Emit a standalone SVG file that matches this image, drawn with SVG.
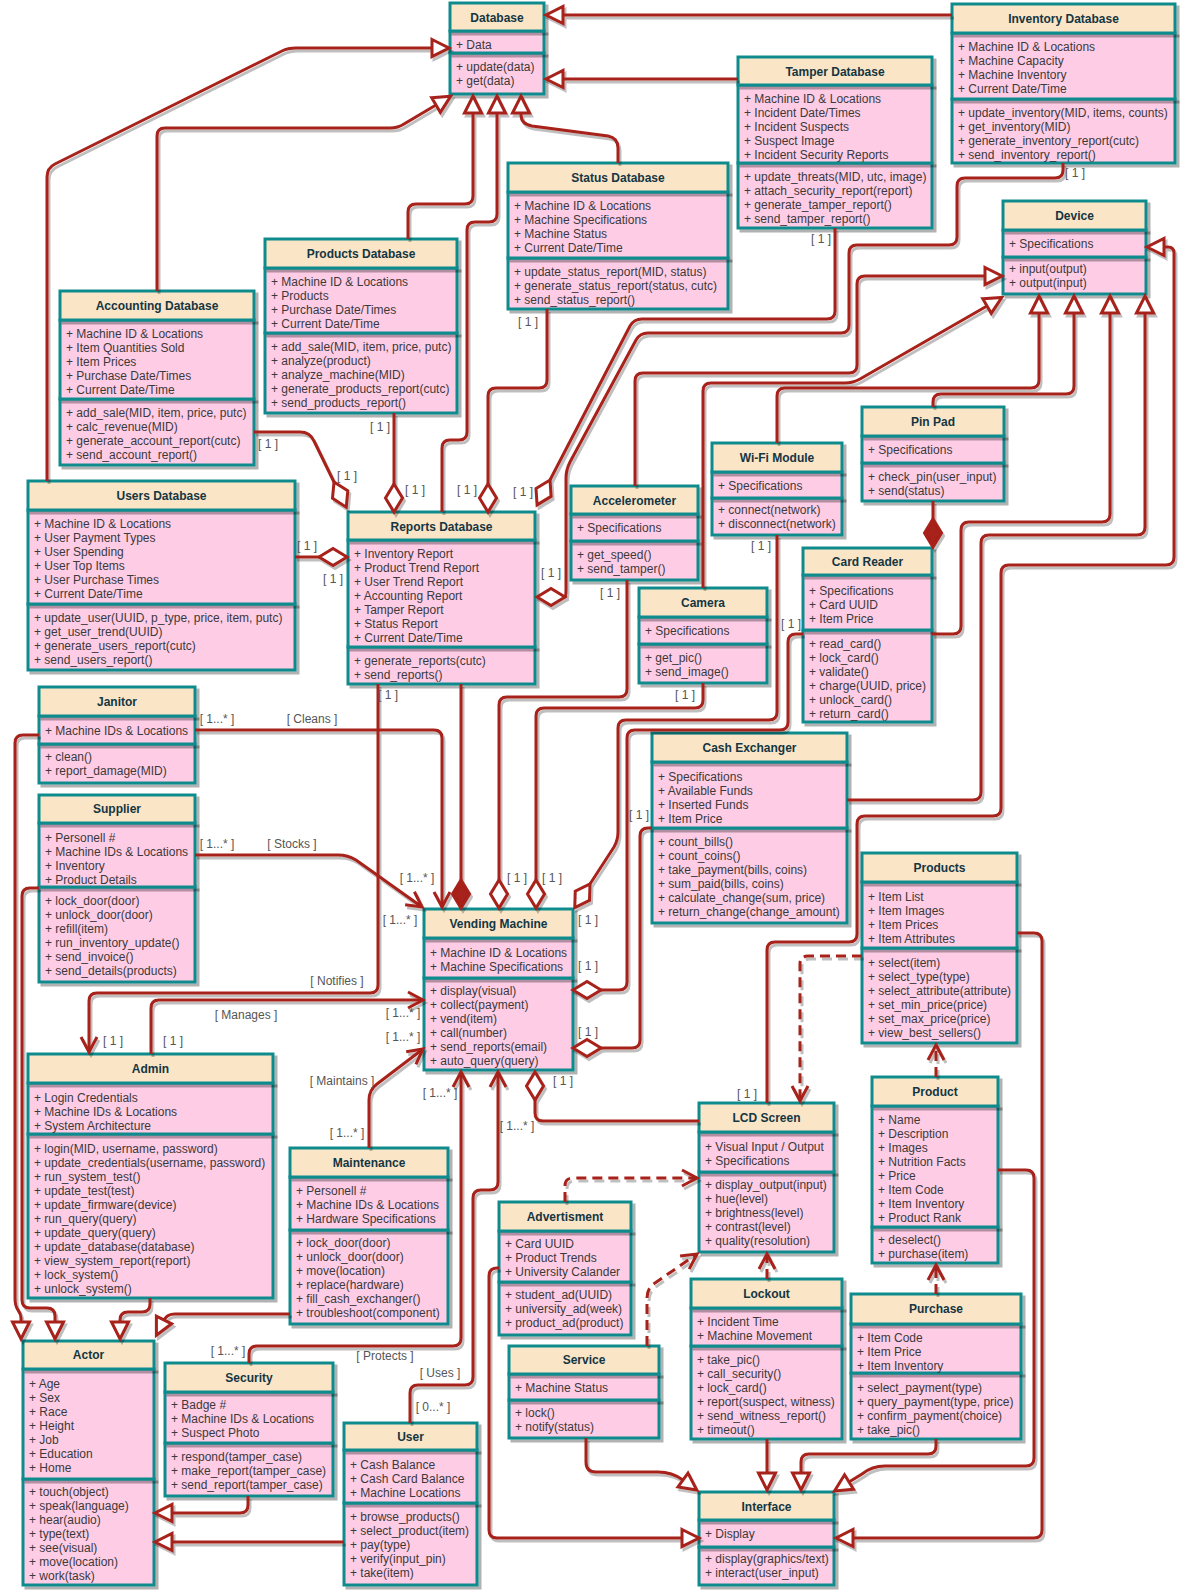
<svg xmlns="http://www.w3.org/2000/svg" width="1194" height="1591" viewBox="0 0 1194 1591">
<defs>
<style>
.hd{fill:#FAE5C7;stroke:#0F8B8D;stroke-width:3;filter:url(#sh)}
.bd{fill:#FFCCE6;stroke:#0F8B8D;stroke-width:3;filter:url(#sh)}
text{font-family:"Liberation Sans",Arial,Helvetica,sans-serif;font-size:12px}
.t{font-weight:bold;fill:#143642;text-anchor:middle}
.m{fill:#3a3a3a}
.l{fill:#555;text-anchor:middle}
.e{fill:none;stroke:#A8201A;stroke-width:3}
.d{stroke-dasharray:10 6}
.ti{marker-end:url(#tri)}
.od{marker-end:url(#odia)}
.fd{marker-end:url(#fdia)}
.ar{marker-end:url(#arr)}
</style>
<filter id="sh" x="-0.05" y="-0.1" width="1.2" height="1.6">
<feDropShadow dx="3" dy="3" stdDeviation="0.7" flood-color="#000" flood-opacity="0.3"/>
</filter>
<filter id="shl" filterUnits="userSpaceOnUse" x="0" y="0" width="1194" height="1591">
<feDropShadow dx="2" dy="3" stdDeviation="0.7" flood-color="#000" flood-opacity="0.25"/>
</filter>
<marker id="tri" markerUnits="userSpaceOnUse" orient="auto" overflow="visible" markerWidth="1" markerHeight="1">
<path d="M0,-8.5 L17,0 L0,8.5 Z" fill="#fff" stroke="#A8201A" stroke-width="3"/>
</marker>
<marker id="odia" markerUnits="userSpaceOnUse" orient="auto" overflow="visible" markerWidth="1" markerHeight="1">
<path d="M0,0 L14,-8.5 L28,0 L14,8.5 Z" fill="#fff" stroke="#A8201A" stroke-width="3"/>
</marker>
<marker id="fdia" markerUnits="userSpaceOnUse" orient="auto" overflow="visible" markerWidth="1" markerHeight="1">
<path d="M0,0 L14,-8.5 L28,0 L14,8.5 Z" fill="#A8201A" stroke="#A8201A" stroke-width="3"/>
</marker>
<marker id="arr" markerUnits="userSpaceOnUse" orient="auto" overflow="visible" markerWidth="1" markerHeight="1">
<path d="M-15,-8 L0,0 L-15,8" fill="none" stroke="#A8201A" stroke-width="3"/>
</marker>
</defs>
<rect width="1194" height="1591" fill="#fff"/>

<g id="database">
<rect class="bd" x="450" y="53" width="94" height="41"/>
<rect class="bd" x="450" y="31" width="94" height="22"/>
<rect class="hd" x="450" y="3" width="94" height="28"/>
<text class="t" x="497" y="21.5">Database</text>
<text class="m" x="456" y="48.5">+ Data</text>
<text class="m" y="70.5"><tspan x="456">+ update(data)</tspan><tspan x="456" dy="14">+ get(data)</tspan></text>
</g>

<g id="inventory-database">
<rect class="bd" x="952" y="99" width="223" height="64"/>
<rect class="bd" x="952" y="33" width="223" height="66"/>
<rect class="hd" x="952" y="4" width="223" height="29"/>
<text class="t" x="1063.5" y="22.5">Inventory Database</text>
<text class="m" y="50.5"><tspan x="958">+ Machine ID &amp; Locations</tspan><tspan x="958" dy="14">+ Machine Capacity</tspan><tspan x="958" dy="14">+ Machine Inventory</tspan><tspan x="958" dy="14">+ Current Date/Time</tspan></text>
<text class="m" y="116.5"><tspan x="958">+ update_inventory(MID, items, counts)</tspan><tspan x="958" dy="14">+ get_inventory(MID)</tspan><tspan x="958" dy="14">+ generate_inventory_report(cutc)</tspan><tspan x="958" dy="14">+ send_inventory_report()</tspan></text>
</g>

<g id="tamper-database">
<rect class="bd" x="738" y="163" width="194" height="65"/>
<rect class="bd" x="738" y="85" width="194" height="78"/>
<rect class="hd" x="738" y="57" width="194" height="28"/>
<text class="t" x="835" y="75.5">Tamper Database</text>
<text class="m" y="102.5"><tspan x="744">+ Machine ID &amp; Locations</tspan><tspan x="744" dy="14">+ Incident Date/Times</tspan><tspan x="744" dy="14">+ Incident Suspects</tspan><tspan x="744" dy="14">+ Suspect Image</tspan><tspan x="744" dy="14">+ Incident Security Reports</tspan></text>
<text class="m" y="180.5"><tspan x="744">+ update_threats(MID, utc, image)</tspan><tspan x="744" dy="14">+ attach_security_report(report)</tspan><tspan x="744" dy="14">+ generate_tamper_report()</tspan><tspan x="744" dy="14">+ send_tamper_report()</tspan></text>
</g>

<g id="status-database">
<rect class="bd" x="508" y="258" width="220" height="51"/>
<rect class="bd" x="508" y="192" width="220" height="66"/>
<rect class="hd" x="508" y="163" width="220" height="29"/>
<text class="t" x="618" y="181.5">Status Database</text>
<text class="m" y="209.5"><tspan x="514">+ Machine ID &amp; Locations</tspan><tspan x="514" dy="14">+ Machine Specifications</tspan><tspan x="514" dy="14">+ Machine Status</tspan><tspan x="514" dy="14">+ Current Date/Time</tspan></text>
<text class="m" y="275.5"><tspan x="514">+ update_status_report(MID, status)</tspan><tspan x="514" dy="14">+ generate_status_report(status, cutc)</tspan><tspan x="514" dy="14">+ send_status_report()</tspan></text>
</g>

<g id="products-database">
<rect class="bd" x="265" y="333" width="192" height="80"/>
<rect class="bd" x="265" y="268" width="192" height="65"/>
<rect class="hd" x="265" y="239" width="192" height="29"/>
<text class="t" x="361" y="257.5">Products Database</text>
<text class="m" y="285.5"><tspan x="271">+ Machine ID &amp; Locations</tspan><tspan x="271" dy="14">+ Products</tspan><tspan x="271" dy="14">+ Purchase Date/Times</tspan><tspan x="271" dy="14">+ Current Date/Time</tspan></text>
<text class="m" y="350.5"><tspan x="271">+ add_sale(MID, item, price, putc)</tspan><tspan x="271" dy="14">+ analyze(product)</tspan><tspan x="271" dy="14">+ analyze_machine(MID)</tspan><tspan x="271" dy="14">+ generate_products_report(cutc)</tspan><tspan x="271" dy="14">+ send_products_report()</tspan></text>
</g>

<g id="accounting-database">
<rect class="bd" x="60" y="399" width="194" height="66"/>
<rect class="bd" x="60" y="320" width="194" height="79"/>
<rect class="hd" x="60" y="291" width="194" height="29"/>
<text class="t" x="157" y="309.5">Accounting Database</text>
<text class="m" y="337.5"><tspan x="66">+ Machine ID &amp; Locations</tspan><tspan x="66" dy="14">+ Item Quantities Sold</tspan><tspan x="66" dy="14">+ Item Prices</tspan><tspan x="66" dy="14">+ Purchase Date/Times</tspan><tspan x="66" dy="14">+ Current Date/Time</tspan></text>
<text class="m" y="416.5"><tspan x="66">+ add_sale(MID, item, price, putc)</tspan><tspan x="66" dy="14">+ calc_revenue(MID)</tspan><tspan x="66" dy="14">+ generate_account_report(cutc)</tspan><tspan x="66" dy="14">+ send_account_report()</tspan></text>
</g>

<g id="users-database">
<rect class="bd" x="28" y="604" width="267" height="66"/>
<rect class="bd" x="28" y="510" width="267" height="94"/>
<rect class="hd" x="28" y="481" width="267" height="29"/>
<text class="t" x="161.5" y="499.5">Users Database</text>
<text class="m" y="527.5"><tspan x="34">+ Machine ID &amp; Locations</tspan><tspan x="34" dy="14">+ User Payment Types</tspan><tspan x="34" dy="14">+ User Spending</tspan><tspan x="34" dy="14">+ User Top Items</tspan><tspan x="34" dy="14">+ User Purchase Times</tspan><tspan x="34" dy="14">+ Current Date/Time</tspan></text>
<text class="m" y="621.5"><tspan x="34">+ update_user(UUID, p_type, price, item, putc)</tspan><tspan x="34" dy="14">+ get_user_trend(UUID)</tspan><tspan x="34" dy="14">+ generate_users_report(cutc)</tspan><tspan x="34" dy="14">+ send_users_report()</tspan></text>
</g>

<g id="reports-database">
<rect class="bd" x="348" y="647" width="187" height="37"/>
<rect class="bd" x="348" y="540" width="187" height="107"/>
<rect class="hd" x="348" y="512" width="187" height="28"/>
<text class="t" x="441.5" y="530.5">Reports Database</text>
<text class="m" y="557.5"><tspan x="354">+ Inventory Report</tspan><tspan x="354" dy="14">+ Product Trend Report</tspan><tspan x="354" dy="14">+ User Trend Report</tspan><tspan x="354" dy="14">+ Accounting Report</tspan><tspan x="354" dy="14">+ Tamper Report</tspan><tspan x="354" dy="14">+ Status Report</tspan><tspan x="354" dy="14">+ Current Date/Time</tspan></text>
<text class="m" y="664.5"><tspan x="354">+ generate_reports(cutc)</tspan><tspan x="354" dy="14">+ send_reports()</tspan></text>
</g>

<g id="device">
<rect class="bd" x="1003" y="257" width="143" height="37"/>
<rect class="bd" x="1003" y="230" width="143" height="27"/>
<rect class="hd" x="1003" y="201" width="143" height="29"/>
<text class="t" x="1074.5" y="219.5">Device</text>
<text class="m" x="1009" y="247.5">+ Specifications</text>
<text class="m" y="272.5"><tspan x="1009">+ input(output)</tspan><tspan x="1009" dy="14">+ output(input)</tspan></text>
</g>

<g id="pin-pad">
<rect class="bd" x="862" y="463" width="142" height="38"/>
<rect class="bd" x="862" y="436" width="142" height="27"/>
<rect class="hd" x="862" y="407" width="142" height="29"/>
<text class="t" x="933" y="425.5">Pin Pad</text>
<text class="m" x="868" y="454">+ Specifications</text>
<text class="m" y="480.5"><tspan x="868">+ check_pin(user_input)</tspan><tspan x="868" dy="14">+ send(status)</tspan></text>
</g>

<g id="wifi-module">
<rect class="bd" x="712" y="498" width="130" height="37"/>
<rect class="bd" x="712" y="472" width="130" height="26"/>
<rect class="hd" x="712" y="443" width="130" height="29"/>
<text class="t" x="777" y="461.5">Wi-Fi Module</text>
<text class="m" x="718" y="490">+ Specifications</text>
<text class="m" y="513.5"><tspan x="718">+ connect(network)</tspan><tspan x="718" dy="14">+ disconnect(network)</tspan></text>
</g>

<g id="accelerometer">
<rect class="bd" x="571" y="541" width="127" height="39"/>
<rect class="bd" x="571" y="514" width="127" height="27"/>
<rect class="hd" x="571" y="486" width="127" height="28"/>
<text class="t" x="634.5" y="504.5">Accelerometer</text>
<text class="m" x="577" y="532">+ Specifications</text>
<text class="m" y="558.5"><tspan x="577">+ get_speed()</tspan><tspan x="577" dy="14">+ send_tamper()</tspan></text>
</g>

<g id="camera">
<rect class="bd" x="639" y="644" width="128" height="39"/>
<rect class="bd" x="639" y="617" width="128" height="27"/>
<rect class="hd" x="639" y="588" width="128" height="29"/>
<text class="t" x="703" y="606.5">Camera</text>
<text class="m" x="645" y="635">+ Specifications</text>
<text class="m" y="661.5"><tspan x="645">+ get_pic()</tspan><tspan x="645" dy="14">+ send_image()</tspan></text>
</g>

<g id="card-reader">
<rect class="bd" x="803" y="630" width="129" height="92"/>
<rect class="bd" x="803" y="575" width="129" height="55"/>
<rect class="hd" x="803" y="548" width="129" height="27"/>
<text class="t" x="867.5" y="566">Card Reader</text>
<text class="m" y="594.5"><tspan x="809">+ Specifications</tspan><tspan x="809" dy="14">+ Card UUID</tspan><tspan x="809" dy="14">+ Item Price</tspan></text>
<text class="m" y="647.5"><tspan x="809">+ read_card()</tspan><tspan x="809" dy="14">+ lock_card()</tspan><tspan x="809" dy="14">+ validate()</tspan><tspan x="809" dy="14">+ charge(UUID, price)</tspan><tspan x="809" dy="14">+ unlock_card()</tspan><tspan x="809" dy="14">+ return_card()</tspan></text>
</g>

<g id="janitor">
<rect class="bd" x="39" y="744" width="156" height="39"/>
<rect class="bd" x="39" y="716" width="156" height="28"/>
<rect class="hd" x="39" y="687" width="156" height="29"/>
<text class="t" x="117" y="705.5">Janitor</text>
<text class="m" x="45" y="734.5">+ Machine IDs &amp; Locations</text>
<text class="m" y="760.5"><tspan x="45">+ clean()</tspan><tspan x="45" dy="14">+ report_damage(MID)</tspan></text>
</g>

<g id="supplier">
<rect class="bd" x="39" y="887" width="156" height="95"/>
<rect class="bd" x="39" y="823" width="156" height="64"/>
<rect class="hd" x="39" y="795" width="156" height="28"/>
<text class="t" x="117" y="813">Supplier</text>
<text class="m" y="841.5"><tspan x="45">+ Personell #</tspan><tspan x="45" dy="14">+ Machine IDs &amp; Locations</tspan><tspan x="45" dy="14">+ Inventory</tspan><tspan x="45" dy="14">+ Product Details</tspan></text>
<text class="m" y="904.5"><tspan x="45">+ lock_door(door)</tspan><tspan x="45" dy="14">+ unlock_door(door)</tspan><tspan x="45" dy="14">+ refill(item)</tspan><tspan x="45" dy="14">+ run_inventory_update()</tspan><tspan x="45" dy="14">+ send_invoice()</tspan><tspan x="45" dy="14">+ send_details(products)</tspan></text>
</g>

<g id="cash-exchanger">
<rect class="bd" x="652" y="828" width="195" height="95"/>
<rect class="bd" x="652" y="762" width="195" height="66"/>
<rect class="hd" x="652" y="733" width="195" height="29"/>
<text class="t" x="749.5" y="751.5">Cash Exchanger</text>
<text class="m" y="780.5"><tspan x="658">+ Specifications</tspan><tspan x="658" dy="14">+ Available Funds</tspan><tspan x="658" dy="14">+ Inserted Funds</tspan><tspan x="658" dy="14">+ Item Price</tspan></text>
<text class="m" y="845.5"><tspan x="658">+ count_bills()</tspan><tspan x="658" dy="14">+ count_coins()</tspan><tspan x="658" dy="14">+ take_payment(bills, coins)</tspan><tspan x="658" dy="14">+ sum_paid(bills, coins)</tspan><tspan x="658" dy="14">+ calculate_change(sum, price)</tspan><tspan x="658" dy="14">+ return_change(change_amount)</tspan></text>
</g>

<g id="products">
<rect class="bd" x="862" y="948" width="155" height="95"/>
<rect class="bd" x="862" y="882" width="155" height="66"/>
<rect class="hd" x="862" y="853" width="155" height="29"/>
<text class="t" x="939.5" y="871.5">Products</text>
<text class="m" y="900.5"><tspan x="868">+ Item List</tspan><tspan x="868" dy="14">+ Item Images</tspan><tspan x="868" dy="14">+ Item Prices</tspan><tspan x="868" dy="14">+ Item Attributes</tspan></text>
<text class="m" y="966.5"><tspan x="868">+ select(item)</tspan><tspan x="868" dy="14">+ select_type(type)</tspan><tspan x="868" dy="14">+ select_attribute(attribute)</tspan><tspan x="868" dy="14">+ set_min_price(price)</tspan><tspan x="868" dy="14">+ set_max_price(price)</tspan><tspan x="868" dy="14">+ view_best_sellers()</tspan></text>
</g>

<g id="vending-machine">
<rect class="bd" x="424" y="978" width="149" height="92"/>
<rect class="bd" x="424" y="938" width="149" height="40"/>
<rect class="hd" x="424" y="909" width="149" height="29"/>
<text class="t" x="498.5" y="927.5">Vending Machine</text>
<text class="m" y="956.5"><tspan x="430">+ Machine ID &amp; Locations</tspan><tspan x="430" dy="14">+ Machine Specifications</tspan></text>
<text class="m" y="994.5"><tspan x="430">+ display(visual)</tspan><tspan x="430" dy="14">+ collect(payment)</tspan><tspan x="430" dy="14">+ vend(item)</tspan><tspan x="430" dy="14">+ call(number)</tspan><tspan x="430" dy="14">+ send_reports(email)</tspan><tspan x="430" dy="14">+ auto_query(query)</tspan></text>
</g>

<g id="admin">
<rect class="bd" x="28" y="1134" width="245" height="164"/>
<rect class="bd" x="28" y="1083" width="245" height="51"/>
<rect class="hd" x="28" y="1054" width="245" height="29"/>
<text class="t" x="150.5" y="1072.5">Admin</text>
<text class="m" y="1101.5"><tspan x="34">+ Login Credentials</tspan><tspan x="34" dy="14">+ Machine IDs &amp; Locations</tspan><tspan x="34" dy="14">+ System Architecture</tspan></text>
<text class="m" y="1152.5"><tspan x="34">+ login(MID, username, password)</tspan><tspan x="34" dy="14">+ update_credentials(username, password)</tspan><tspan x="34" dy="14">+ run_system_test()</tspan><tspan x="34" dy="14">+ update_test(test)</tspan><tspan x="34" dy="14">+ update_firmware(device)</tspan><tspan x="34" dy="14">+ run_query(query)</tspan><tspan x="34" dy="14">+ update_query(query)</tspan><tspan x="34" dy="14">+ update_database(database)</tspan><tspan x="34" dy="14">+ view_system_report(report)</tspan><tspan x="34" dy="14">+ lock_system()</tspan><tspan x="34" dy="14">+ unlock_system()</tspan></text>
</g>

<g id="maintenance">
<rect class="bd" x="290" y="1230" width="158" height="94"/>
<rect class="bd" x="290" y="1177" width="158" height="53"/>
<rect class="hd" x="290" y="1148" width="158" height="29"/>
<text class="t" x="369" y="1166.5">Maintenance</text>
<text class="m" y="1194.5"><tspan x="296">+ Personell #</tspan><tspan x="296" dy="14">+ Machine IDs &amp; Locations</tspan><tspan x="296" dy="14">+ Hardware Specifications</tspan></text>
<text class="m" y="1246.5"><tspan x="296">+ lock_door(door)</tspan><tspan x="296" dy="14">+ unlock_door(door)</tspan><tspan x="296" dy="14">+ move(location)</tspan><tspan x="296" dy="14">+ replace(hardware)</tspan><tspan x="296" dy="14">+ fill_cash_exchanger()</tspan><tspan x="296" dy="14">+ troubleshoot(component)</tspan></text>
</g>

<g id="lcd-screen">
<rect class="bd" x="699" y="1172" width="135" height="80"/>
<rect class="bd" x="699" y="1132" width="135" height="40"/>
<rect class="hd" x="699" y="1103" width="135" height="29"/>
<text class="t" x="766.5" y="1121.5">LCD Screen</text>
<text class="m" y="1150.5"><tspan x="705">+ Visual Input / Output</tspan><tspan x="705" dy="14">+ Specifications</tspan></text>
<text class="m" y="1188.5"><tspan x="705">+ display_output(input)</tspan><tspan x="705" dy="14">+ hue(level)</tspan><tspan x="705" dy="14">+ brightness(level)</tspan><tspan x="705" dy="14">+ contrast(level)</tspan><tspan x="705" dy="14">+ quality(resolution)</tspan></text>
</g>

<g id="product">
<rect class="bd" x="872" y="1227" width="126" height="36"/>
<rect class="bd" x="872" y="1106" width="126" height="121"/>
<rect class="hd" x="872" y="1077" width="126" height="29"/>
<text class="t" x="935" y="1095.5">Product</text>
<text class="m" y="1123.5"><tspan x="878">+ Name</tspan><tspan x="878" dy="14">+ Description</tspan><tspan x="878" dy="14">+ Images</tspan><tspan x="878" dy="14">+ Nutrition Facts</tspan><tspan x="878" dy="14">+ Price</tspan><tspan x="878" dy="14">+ Item Code</tspan><tspan x="878" dy="14">+ Item Inventory</tspan><tspan x="878" dy="14">+ Product Rank</tspan></text>
<text class="m" y="1243.5"><tspan x="878">+ deselect()</tspan><tspan x="878" dy="14">+ purchase(item)</tspan></text>
</g>

<g id="advertisment">
<rect class="bd" x="499" y="1282" width="132" height="53"/>
<rect class="bd" x="499" y="1231" width="132" height="51"/>
<rect class="hd" x="499" y="1202" width="132" height="29"/>
<text class="t" x="565" y="1220.5">Advertisment</text>
<text class="m" y="1247.5"><tspan x="505">+ Card UUID</tspan><tspan x="505" dy="14">+ Product Trends</tspan><tspan x="505" dy="14">+ University Calander</tspan></text>
<text class="m" y="1298.5"><tspan x="505">+ student_ad(UUID)</tspan><tspan x="505" dy="14">+ university_ad(week)</tspan><tspan x="505" dy="14">+ product_ad(product)</tspan></text>
</g>

<g id="lockout">
<rect class="bd" x="691" y="1346" width="151" height="93"/>
<rect class="bd" x="691" y="1308" width="151" height="38"/>
<rect class="hd" x="691" y="1279" width="151" height="29"/>
<text class="t" x="766.5" y="1297.5">Lockout</text>
<text class="m" y="1325.5"><tspan x="697">+ Incident Time</tspan><tspan x="697" dy="14">+ Machine Movement</tspan></text>
<text class="m" y="1363.5"><tspan x="697">+ take_pic()</tspan><tspan x="697" dy="14">+ call_security()</tspan><tspan x="697" dy="14">+ lock_card()</tspan><tspan x="697" dy="14">+ report(suspect, witness)</tspan><tspan x="697" dy="14">+ send_witness_report()</tspan><tspan x="697" dy="14">+ timeout()</tspan></text>
</g>

<g id="purchase">
<rect class="bd" x="851" y="1373" width="170" height="66"/>
<rect class="bd" x="851" y="1324" width="170" height="49"/>
<rect class="hd" x="851" y="1294" width="170" height="30"/>
<text class="t" x="936" y="1312.5">Purchase</text>
<text class="m" y="1341.5"><tspan x="857">+ Item Code</tspan><tspan x="857" dy="14">+ Item Price</tspan><tspan x="857" dy="14">+ Item Inventory</tspan></text>
<text class="m" y="1391.5"><tspan x="857">+ select_payment(type)</tspan><tspan x="857" dy="14">+ query_payment(type, price)</tspan><tspan x="857" dy="14">+ confirm_payment(choice)</tspan><tspan x="857" dy="14">+ take_pic()</tspan></text>
</g>

<g id="service">
<rect class="bd" x="509" y="1400" width="150" height="38"/>
<rect class="bd" x="509" y="1374" width="150" height="26"/>
<rect class="hd" x="509" y="1346" width="150" height="28"/>
<text class="t" x="584" y="1363.5">Service</text>
<text class="m" x="515" y="1392">+ Machine Status</text>
<text class="m" y="1416.5"><tspan x="515">+ lock()</tspan><tspan x="515" dy="14">+ notify(status)</tspan></text>
</g>

<g id="actor">
<rect class="bd" x="23" y="1479" width="131" height="106"/>
<rect class="bd" x="23" y="1369" width="131" height="110"/>
<rect class="hd" x="23" y="1341" width="131" height="28"/>
<text class="t" x="88.5" y="1359">Actor</text>
<text class="m" y="1387.5"><tspan x="29">+ Age</tspan><tspan x="29" dy="14">+ Sex</tspan><tspan x="29" dy="14">+ Race</tspan><tspan x="29" dy="14">+ Height</tspan><tspan x="29" dy="14">+ Job</tspan><tspan x="29" dy="14">+ Education</tspan><tspan x="29" dy="14">+ Home</tspan></text>
<text class="m" y="1495.5"><tspan x="29">+ touch(object)</tspan><tspan x="29" dy="14">+ speak(language)</tspan><tspan x="29" dy="14">+ hear(audio)</tspan><tspan x="29" dy="14">+ type(text)</tspan><tspan x="29" dy="14">+ see(visual)</tspan><tspan x="29" dy="14">+ move(location)</tspan><tspan x="29" dy="14">+ work(task)</tspan></text>
</g>

<g id="security">
<rect class="bd" x="165" y="1443" width="168" height="53"/>
<rect class="bd" x="165" y="1392" width="168" height="51"/>
<rect class="hd" x="165" y="1363" width="168" height="29"/>
<text class="t" x="249" y="1381.5">Security</text>
<text class="m" y="1408.5"><tspan x="171">+ Badge #</tspan><tspan x="171" dy="14">+ Machine IDs &amp; Locations</tspan><tspan x="171" dy="14">+ Suspect Photo</tspan></text>
<text class="m" y="1460.5"><tspan x="171">+ respond(tamper_case)</tspan><tspan x="171" dy="14">+ make_report(tamper_case)</tspan><tspan x="171" dy="14">+ send_report(tamper_case)</tspan></text>
</g>

<g id="user">
<rect class="bd" x="344" y="1503" width="133" height="82"/>
<rect class="bd" x="344" y="1450" width="133" height="53"/>
<rect class="hd" x="344" y="1423" width="133" height="27"/>
<text class="t" x="410.5" y="1441">User</text>
<text class="m" y="1468.5"><tspan x="350">+ Cash Balance</tspan><tspan x="350" dy="14">+ Cash Card Balance</tspan><tspan x="350" dy="14">+ Machine Locations</tspan></text>
<text class="m" y="1520.5"><tspan x="350">+ browse_products()</tspan><tspan x="350" dy="14">+ select_product(item)</tspan><tspan x="350" dy="14">+ pay(type)</tspan><tspan x="350" dy="14">+ verify(input_pin)</tspan><tspan x="350" dy="14">+ take(item)</tspan></text>
</g>

<g id="interface">
<rect class="bd" x="699" y="1547" width="135" height="38"/>
<rect class="bd" x="699" y="1520" width="135" height="27"/>
<rect class="hd" x="699" y="1492" width="135" height="28"/>
<text class="t" x="766.5" y="1510.5">Interface</text>
<text class="m" x="705" y="1538">+ Display</text>
<text class="m" y="1562.5"><tspan x="705">+ display(graphics/text)</tspan><tspan x="705" dy="14">+ interact(user_input)</tspan></text>
</g>

<g id="connectors" filter="url(#shl)">
<path class="e ti" d="M952,15 H563"/>
<path class="e ti" d="M738,79 H563"/>
<path class="e ti" d="M47,481 V177 Q47,168 55,164 L282,51 Q288,48 296,48 H432"/>
<path class="e ti" d="M157,291 V136 Q157,128 165,128 H390 Q398,128 404,124 L436,105"/>
<path class="e ti" d="M408,239 V212 Q408,204 416,204 H465 Q473,204 473,196 V113"/>
<path class="e ti" d="M442,512 V448 Q442,440 450,440 H459 Q467,440 467,432 V230 Q467,222 475,222 H489 Q497,222 497,214 V113"/>
<path class="e ti" d="M618,163 V148 Q618,138 608,136 L532,126 Q521,124 521,115 V113"/>

<path class="e od" d="M547,309 V380 Q547,388 539,388 H496 Q488,388 488,396 V484"/>
<path class="e od" d="M394,413 V484"/>
<path class="e od" d="M254,432 H300 Q310,432 314,441 L334,482"/>
<path class="e od" d="M295,557 H319"/>
<path class="e od" d="M835,228 V311 Q835,319 827,319 H642 Q634,319 630,326 L550,480"/>
<path class="e od" d="M1063,163 V170 Q1063,178 1055,178 H965 Q957,178 957,186 V237 Q957,245 949,245 H857 Q849,245 849,253 V325 Q849,333 841,333 H648 Q640,333 636,340 L570,462 Q566,470 566,478 V589 Q566,597 565,597"/>

<path class="e ti" d="M635,486 V381 Q635,373 643,373 H849 Q857,373 857,365 V284 Q857,276 865,276 H985"/>
<path class="e ti" d="M703,588 V391 Q703,383 711,383 H845 Q853,383 860,379 L987,306"/>
<path class="e ti" d="M777,443 V396 Q777,388 785,388 H1031 Q1039,388 1039,380 V313"/>
<path class="e ti" d="M933,407 V402 Q933,394 941,394 H1066 Q1074,394 1074,386 V313"/>
<path class="e ti" d="M932,634 H953 Q961,634 961,626 V530 Q961,522 969,522 H1102 Q1110,522 1110,514 V313"/>
<path class="e ti" d="M847,800 H973 Q981,800 981,792 V543 Q981,535 989,535 H1137 Q1145,535 1145,527 V313"/>
<path class="e ti" d="M767,1103 V950 Q767,942 775,942 H849 Q857,942 857,934 V824 Q857,816 865,816 H993 Q1001,816 1001,808 V573 Q1001,565 1009,565 H1166 Q1174,565 1174,557 V253 Q1174,247 1168,247 H1164"/>
<path class="e fd" d="M933,501 V519"/>

<path class="e ar" d="M195,730 H434 Q442,730 442,738 V907"/>
<path class="e ar" d="M195,855 H338 Q348,855 356,860 L422,907"/>
<path class="e fd" d="M461,684 V880"/>
<path class="e od" d="M627,580 V689 Q627,697 619,697 H507 Q499,697 499,705 V880"/>
<path class="e od" d="M703,683 V700 Q703,708 695,708 H544 Q536,708 536,716 V880"/>
<path class="e od" d="M777,535 V712 Q777,720 769,720 H626 Q618,720 618,728 V832 Q618,840 614,847 L590,884"/>
<path class="e od" d="M803,634 H796 Q788,634 788,642 V722 Q788,730 780,730 H635 Q627,730 627,738 V982 Q627,990 619,990 H601"/>
<path class="e od" d="M652,828 H648 Q640,828 640,836 V1040 Q640,1048 632,1048 H601"/>
<path class="e od" d="M699,1121 H543 Q535,1121 535,1113 V1100"/>
<path class="e ar" d="M151,1054 V1008 Q151,1000 159,1000 H423"/>
<path class="e ar" d="M369,1148 V1100 Q369,1090 377,1084 L423,1049"/>
<path class="e ar" d="M249,1363 V1354 Q249,1346 257,1346 H453 Q461,1346 461,1338 V1072"/>
<path class="e ar" d="M410,1423 V1393 Q410,1385 418,1385 H465 Q473,1385 473,1377 V1198 Q473,1190 481,1190 H490 Q498,1190 498,1182 V1072"/>
<path class="e ar" d="M378,684 V985 Q378,993 370,993 H97 Q89,993 89,1001 V1052"/>

<path class="e ti" d="M767,1439 V1473"/>
<path class="e ti" d="M586,1438 V1462 Q586,1472 596,1472 H658 Q672,1472 683,1480"/>
<path class="e ti" d="M499,1268 H497 Q489,1268 489,1276 V1530 Q489,1538 497,1538 H682"/>
<path class="e ti" d="M936,1439 V1446 Q936,1454 928,1454 H809 Q801,1454 801,1462 V1473"/>
<path class="e ti" d="M998,1170 H1026 Q1034,1170 1034,1178 V1458 Q1034,1466 1026,1466 H885 Q872,1466 862,1474 L849,1482"/>
<path class="e ti" d="M1017,933 H1034 Q1042,933 1042,941 V1530 Q1042,1538 1034,1538 H853"/>

<path class="e d ar" d="M767,1279 V1254"/>
<path class="e d ar" d="M647,1346 V1298 Q647,1288 655,1283 L697,1254"/>
<path class="e d ar" d="M565,1202 V1186 Q565,1178 573,1178 H697"/>
<path class="e d ar" d="M862,956 H808 Q800,956 800,964 V1101"/>
<path class="e d ar" d="M936,1077 V1045"/>
<path class="e d ar" d="M936,1294 V1265"/>

<path class="e ti" d="M39,735 H23 Q15,735 15,743 V1298 Q15,1306 18,1310 Q21,1314 21,1318 V1322"/>
<path class="e ti" d="M39,888 H30 Q22,888 22,896 V1300 Q22,1308 30,1308 H47 Q55,1308 55,1316 V1322"/>
<path class="e ti" d="M150,1298 V1304 Q150,1312 142,1312 H128 Q120,1312 120,1320 V1322"/>
<path class="e ti" d="M290,1314 H175 Q167,1314 164,1320"/>
<path class="e ti" d="M248,1496 V1505 Q248,1513 240,1513 H172"/>
<path class="e ti" d="M344,1542 H172"/>
</g>

<g id="labels">
<text class="l" x="528" y="326">[ 1 ]</text>
<text class="l" x="821" y="243">[ 1 ]</text>
<text class="l" x="1075" y="177">[ 1 ]</text>
<text class="l" x="380" y="431">[ 1 ]</text>
<text class="l" x="268" y="448">[ 1 ]</text>
<text class="l" x="347" y="480">[ 1 ]</text>
<text class="l" x="415" y="494">[ 1 ]</text>
<text class="l" x="467" y="494">[ 1 ]</text>
<text class="l" x="523" y="496">[ 1 ]</text>
<text class="l" x="551" y="577">[ 1 ]</text>
<text class="l" x="307" y="550">[ 1 ]</text>
<text class="l" x="333" y="583">[ 1 ]</text>
<text class="l" x="388" y="699">[ 1 ]</text>
<text class="l" x="610" y="597">[ 1 ]</text>
<text class="l" x="685" y="699">[ 1 ]</text>
<text class="l" x="761" y="550">[ 1 ]</text>
<text class="l" x="791" y="628">[ 1 ]</text>
<text class="l" x="639" y="819">[ 1 ]</text>
<text class="l" x="217" y="723">[ 1...* ]</text>
<text class="l" x="312" y="723">[ Cleans ]</text>
<text class="l" x="217" y="848">[ 1...* ]</text>
<text class="l" x="292" y="848">[ Stocks ]</text>
<text class="l" x="417" y="882">[ 1...* ]</text>
<text class="l" x="400" y="924">[ 1...* ]</text>
<text class="l" x="337" y="985">[ Notifies ]</text>
<text class="l" x="246" y="1019">[ Manages ]</text>
<text class="l" x="403" y="1017">[ 1...* ]</text>
<text class="l" x="403" y="1041">[ 1...* ]</text>
<text class="l" x="113" y="1045">[ 1 ]</text>
<text class="l" x="173" y="1045">[ 1 ]</text>
<text class="l" x="342" y="1085">[ Maintains ]</text>
<text class="l" x="347" y="1137">[ 1...* ]</text>
<text class="l" x="440" y="1097">[ 1...* ]</text>
<text class="l" x="517" y="1130">[ 1...* ]</text>
<text class="l" x="563" y="1085">[ 1 ]</text>
<text class="l" x="588" y="924">[ 1 ]</text>
<text class="l" x="588" y="970">[ 1 ]</text>
<text class="l" x="588" y="1036">[ 1 ]</text>
<text class="l" x="517" y="882">[ 1 ]</text>
<text class="l" x="552" y="882">[ 1 ]</text>
<text class="l" x="747" y="1098">[ 1 ]</text>
<text class="l" x="228" y="1355">[ 1...* ]</text>
<text class="l" x="385" y="1360">[ Protects ]</text>
<text class="l" x="440" y="1377">[ Uses ]</text>
<text class="l" x="433" y="1411">[ 0...* ]</text>
</g>
</svg>
